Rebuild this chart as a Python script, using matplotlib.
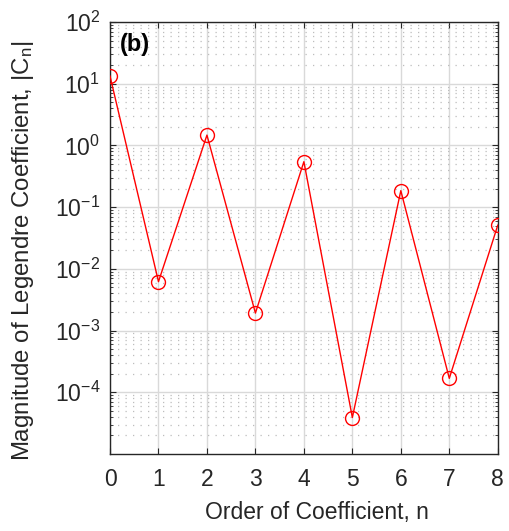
import matplotlib.pyplot as plt
from matplotlib.ticker import LogLocator, NullFormatter

plt.rcParams['font.family'] = ['Liberation Sans', 'DejaVu Sans']
plt.rcParams['mathtext.default'] = 'regular'

# Legendre coefficient magnitudes by order
order = [0, 1, 2, 3, 4, 5, 6, 7, 8]
coef_mag = [13.3, 6.2e-3, 1.47, 1.92e-3, 0.545, 3.9e-5, 0.185, 1.68e-4, 0.051]
ytick_vals = [1e-4, 1e-3, 1e-2, 1e-1, 1e0, 1e1, 1e2]

fig = plt.figure(figsize=(5.1, 5.31), dpi=100)
ax = fig.add_axes([0.2157, 0.145, 0.7603, 0.8136])

ax.semilogy(order, coef_mag, color='red', lw=1.0, marker='o', ms=10,
            mfc='none', mec='red', mew=1.0, zorder=3)

ax.set_xlim(0, 8)
ax.set_ylim(1e-5, 1e2)
ax.set_xticks(range(0, 9))
ax.set_yticks(ytick_vals)
ax.yaxis.set_minor_locator(LogLocator(base=10, subs=range(2, 10), numticks=20))
ax.yaxis.set_minor_formatter(NullFormatter())

ax.grid(True, which='major', color='#d9d9d9', lw=1.0, zorder=0)
ax.grid(True, which='minor', axis='y', color='#bdbdbd', lw=0.9,
        linestyle=(0, (1, 5)), zorder=0)

ax.tick_params(which='both', direction='in', top=True, right=True,
               labelsize=16.5, colors='#262626')
ax.tick_params(axis='x', pad=10)
ax.tick_params(axis='y', pad=7)
ax.tick_params(which='major', length=4)
ax.tick_params(which='minor', length=2)
for s in ax.spines.values():
    s.set_color('#262626')
    s.set_linewidth(1.0)

ax.set_xlabel('Order of Coefficient, n', fontsize=16.5, color='#262626')
ax.set_ylabel('Magnitude of Legendre Coefficient, |C$_n$|', fontsize=17.3,
              color='#262626')
ax.xaxis.set_label_coords(0.533, -0.108)
ax.yaxis.set_label_coords(-0.19, 0.47)
ax.text(0.025, 0.975, '(b)', transform=ax.transAxes, fontsize=17,
        fontweight='bold', va='top', ha='left')

fig.savefig('out.png', dpi=100)
